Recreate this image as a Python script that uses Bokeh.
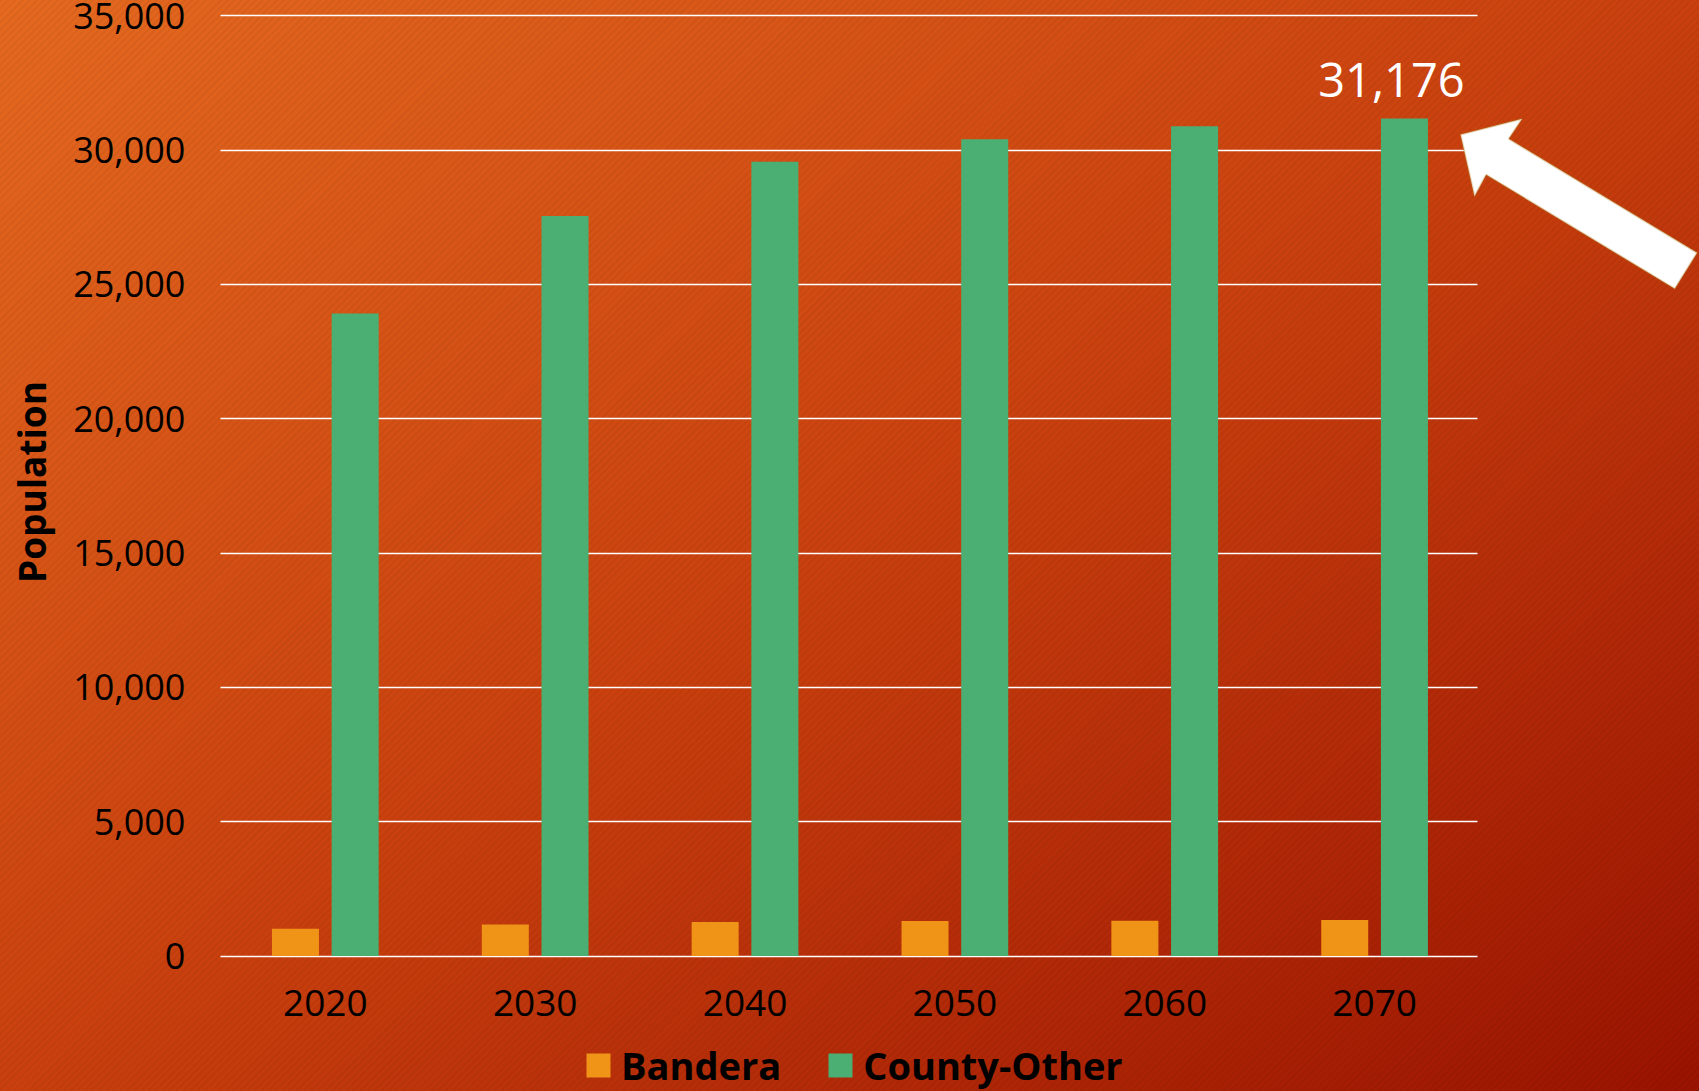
from bokeh.plotting import figure
from bokeh.models import (ColumnDataSource, FactorRange, Range1d, Legend, LegendItem,
                          FixedTicker, NumeralTickFormatter, PolyAnnotation)
from bokeh.transform import dodge
from bokeh.core.properties import value
from bokeh.embed import file_html
from bokeh.resources import INLINE

# ---------------- data ----------------
years = ["2020", "2030", "2040", "2050", "2060", "2070"]
bandera = [1020, 1180, 1270, 1310, 1320, 1345]
county_other = [23920, 27550, 29560, 30400, 30890, 31176]
series_names = ["Bandera", "County-Other"]
y_ticks = [0, 5000, 10000, 15000, 20000, 25000, 30000, 35000]
y_title = "Population"

# ---------------- style ----------------
FONT = "Open Sans"
W, H = 1699, 1091
ORANGE = "#F09418"
GREEN = "#4BAF74"

src = ColumnDataSource(dict(year=years, bandera=bandera, county=county_other))

p = figure(width=W, height=H,
           x_range=FactorRange(factors=years, range_padding=1.048,
                               range_padding_units="absolute"),
           y_range=Range1d(-5039, 35566),
           output_backend="svg", toolbar_location=None, min_border=0)

p.background_fill_color = None
p.border_fill_color = None
p.outline_line_color = None
p.styles = {
    "background": ("repeating-linear-gradient(135deg, rgba(0,0,0,0.045) 0px, rgba(0,0,0,0.045) 2px, "
                   "rgba(0,0,0,0) 2px, rgba(0,0,0,0) 5px), "
                   "linear-gradient(to bottom right, #E5691F 0%, #C9400E 50%, #9A1300 100%)"),
}

# bars
r1 = p.vbar(x=dodge("year", -0.1425, range=p.x_range), top="bandera", width=0.224,
            source=src, fill_color=ORANGE, line_color=None)
r2 = p.vbar(x=dodge("year", 0.142, range=p.x_range), top="county", width=0.224,
            source=src, fill_color=GREEN, line_color=None)

# data label on the last County-Other bar
lab_src = ColumnDataSource(dict(year=[years[-1]], v=[county_other[-1]],
                                t=[f"{county_other[-1]:,}"]))
p.text(x=dodge("year", 0.142, range=p.x_range), y="v", text="t", source=lab_src,
       text_font=value(FONT), text_font_size="47px", text_color="white",
       text_align="center", text_baseline="alphabetic", x_offset=-13, y_offset=-38)

# axes
p.yaxis.fixed_location = 0
p.xaxis.fixed_location = 0
p.yaxis.bounds = (0, 35320)
p.yaxis.ticker = FixedTicker(ticks=y_ticks)
p.yaxis.formatter = NumeralTickFormatter(format="0,0")
for ax in (p.xaxis, p.yaxis):
    ax.axis_line_color = None
    ax.major_tick_line_color = None
    ax.minor_tick_line_color = None
    ax.major_label_text_font = FONT
    ax.major_label_text_color = "black"
p.yaxis.major_label_text_font_size = "36px"
p.yaxis.major_label_standoff = 29
p.xaxis.major_label_text_font_size = "37px"
p.xaxis.major_label_standoff = 28
p.yaxis.axis_label = y_title
p.yaxis.axis_label_text_font = FONT
p.yaxis.axis_label_text_font_style = "bold"
p.yaxis.axis_label_text_font_size = "37px"
p.yaxis.axis_label_text_color = "black"
p.yaxis.axis_label_standoff = 13

# grid
p.xgrid.visible = False
p.ygrid.ticker = FixedTicker(ticks=y_ticks)
p.ygrid.grid_line_color = "white"
p.ygrid.grid_line_width = 1.6
p.ygrid.cross_bounds = (0, 5.99)

# legend
legend = Legend(items=[LegendItem(label=series_names[0], renderers=[r1]),
                       LegendItem(label=series_names[1], renderers=[r2])],
                orientation="horizontal", location=(583, 0),
                label_text_font=FONT, label_text_font_style="bold",
                label_text_font_size="38px", label_text_color="black",
                glyph_width=30, glyph_height=30, label_standoff=8, spacing=44,
                padding=0, margin=0, background_fill_alpha=0, border_line_alpha=0)
p.add_layout(legend)

# callout arrow (decoration, screen units)
arrow_xs = [1460, 1521.7, 1508.3, 1696.7, 1674.3, 1485.7, 1474]
arrow_ys = [957, 972.7, 952.7, 838.7, 802.7, 916.7, 895]
p.add_layout(PolyAnnotation(xs=arrow_xs, ys=arrow_ys, xs_units="screen", ys_units="screen",
                            fill_color="white", fill_alpha=1,
                            line_color="#A8730F", line_width=2))

open("out.html", "w").write(file_html(p, INLINE))
